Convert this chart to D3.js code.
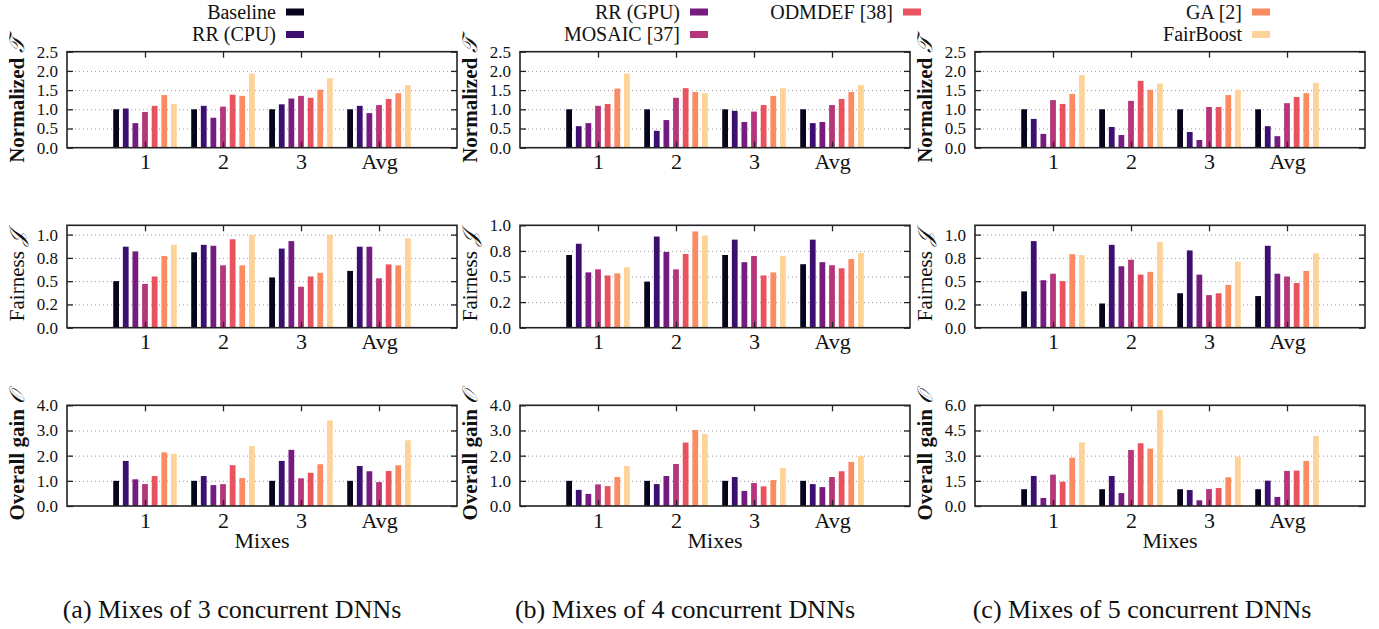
<!DOCTYPE html>
<html lang="en">
<head>
  <meta charset="UTF-8">
  <title>Concurrent DNN mixes</title>
  <script src="https://cdn.jsdelivr.net/npm/d3@7/dist/d3.min.js"></script>
  <style>
    html, body { margin: 0; padding: 0; background: #fff; }
    svg { display: block; font-family: "Liberation Serif", "DejaVu Serif", serif; }
  </style>
</head>
<body>
  <svg id="chart" width="1379" height="629"></svg>
  <script>
    // ---- data ----
    const groups = ['1', '2', '3', 'Avg'];
    const series = ['Baseline', 'RR (CPU)', 'RR (GPU)', 'MOSAIC [37]', 'ODMDEF [38]', 'GA [2]', 'FairBoost'];
    const captions = ['(a) Mixes of 3 concurrent DNNs', '(b) Mixes of 4 concurrent DNNs', '(c) Mixes of 5 concurrent DNNs'];

    // normalized throughput, one row per mix
    const thr3 = [[1.00, 1.02, 0.64, 0.93, 1.09, 1.37, 1.14],
                  [1.00, 1.09, 0.78, 1.07, 1.38, 1.35, 1.93],
                  [1.00, 1.13, 1.28, 1.35, 1.30, 1.51, 1.81],
                  [1.00, 1.09, 0.90, 1.11, 1.27, 1.42, 1.63]];
    const thr4 = [[1.00, 0.56, 0.64, 1.09, 1.14, 1.54, 1.93],
                  [1.00, 0.44, 0.72, 1.30, 1.55, 1.45, 1.42],
                  [1.00, 0.96, 0.67, 0.94, 1.11, 1.35, 1.55],
                  [1.00, 0.64, 0.67, 1.11, 1.27, 1.45, 1.63]];
    const thr5 = [[1.00, 0.75, 0.36, 1.24, 1.14, 1.40, 1.89],
                  [1.00, 0.54, 0.33, 1.22, 1.74, 1.51, 1.67],
                  [1.00, 0.41, 0.20, 1.06, 1.06, 1.37, 1.51],
                  [1.00, 0.56, 0.30, 1.16, 1.32, 1.42, 1.69]];

    // fairness
    const fair3 = [[0.50, 0.87, 0.82, 0.47, 0.55, 0.77, 0.89],
                   [0.81, 0.89, 0.88, 0.67, 0.95, 0.67, 1.00],
                   [0.54, 0.85, 0.93, 0.44, 0.55, 0.59, 1.00],
                   [0.61, 0.87, 0.87, 0.53, 0.68, 0.67, 0.96]];
    const fair4 = [[0.71, 0.82, 0.54, 0.57, 0.51, 0.53, 0.59],
                   [0.45, 0.89, 0.74, 0.57, 0.72, 0.94, 0.90],
                   [0.71, 0.86, 0.64, 0.70, 0.51, 0.54, 0.70],
                   [0.62, 0.86, 0.64, 0.61, 0.58, 0.67, 0.73]];
    const fair5 = [[0.39, 0.93, 0.51, 0.58, 0.50, 0.79, 0.78],
                   [0.26, 0.89, 0.66, 0.73, 0.57, 0.60, 0.92],
                   [0.37, 0.83, 0.57, 0.35, 0.37, 0.46, 0.71],
                   [0.34, 0.88, 0.58, 0.55, 0.48, 0.61, 0.80]];

    // overall gain
    const gain3 = [[1.00, 1.79, 1.06, 0.87, 1.19, 2.13, 2.07],
                   [1.00, 1.19, 0.83, 0.87, 1.62, 1.11, 2.38],
                   [1.00, 1.79, 2.23, 1.10, 1.32, 1.66, 3.40],
                   [1.00, 1.59, 1.38, 0.95, 1.39, 1.62, 2.61]];
    const gain4 = [[1.00, 0.64, 0.48, 0.86, 0.79, 1.15, 1.59],
                   [1.00, 0.87, 1.19, 1.67, 2.52, 3.02, 2.86],
                   [1.00, 1.15, 0.60, 0.91, 0.78, 1.03, 1.51],
                   [1.00, 0.87, 0.75, 1.15, 1.38, 1.75, 1.99]];
    const gain5 = [[1.00, 1.79, 0.48, 1.87, 1.45, 2.88, 3.79],
                   [1.00, 1.79, 0.77, 3.34, 3.74, 3.42, 5.72],
                   [1.00, 0.95, 0.34, 1.01, 1.07, 1.71, 2.94],
                   [1.00, 1.51, 0.54, 2.09, 2.11, 2.68, 4.17]];

    // y tick values and labels
    const thrTicks = [0, 0.5, 1.0, 1.5, 2.0, 2.5];
    const thrTickLabels = ['0.0', '0.5', '1.0', '1.5', '2.0', '2.5'];
    const fairTicks = [0, 0.25, 0.5, 0.75, 1.0];
    const fairTickLabels = ['0.0', '0.2', '0.5', '0.8', '1.0'];
    const gainTicks = [0, 1, 2, 3, 4];
    const gainTickLabels = ['0.0', '1.0', '2.0', '3.0', '4.0'];
    const gain5Ticks = [0, 1.5, 3, 4.5, 6];
    const gain5TickLabels = ['0.0', '1.5', '3.0', '4.5', '6.0'];

    // ---- style / layout ----
    const colors = ['#07051c', '#3c0f71', '#761c80', '#b5367a', '#e8535f', '#fb8c62', '#fdd397'];
    const colLeft = [67, 520, 975];
    const colCaptionX = [232, 685, 1142];
    const panelW = 390;
    const rowTop = [51.7, 225.3, 405.3];
    const rowH = [96, 102.4, 100.7];

    const panels = [
      {row: 0, col: 0, data: thr3, max: 2.5, ticks: thrTicks, labels: thrTickLabels},
      {row: 0, col: 1, data: thr4, max: 2.5, ticks: thrTicks, labels: thrTickLabels},
      {row: 0, col: 2, data: thr5, max: 2.5, ticks: thrTicks, labels: thrTickLabels},
      {row: 1, col: 0, data: fair3, max: 1.1, ticks: fairTicks, labels: fairTickLabels},
      {row: 1, col: 1, data: fair4, max: 1.0, ticks: fairTicks, labels: fairTickLabels},
      {row: 1, col: 2, data: fair5, max: 1.1, ticks: fairTicks, labels: fairTickLabels},
      {row: 2, col: 0, data: gain3, max: 4, ticks: gainTicks, labels: gainTickLabels},
      {row: 2, col: 1, data: gain4, max: 4, ticks: gainTicks, labels: gainTickLabels},
      {row: 2, col: 2, data: gain5, max: 6, ticks: gain5Ticks, labels: gain5TickLabels},
    ];
    const rowTitles = [
      {text: 'Normalized ', sym: '\u{1D4AF}', weight: 'bold'},
      {text: 'Fairness ', sym: '\u{1D4A5}', weight: 'normal'},
      {text: 'Overall gain ', sym: '\u{1D4AA}', weight: 'bold'},
    ];

    const svg = d3.select('#chart');
    svg.append('rect').attr('width', 1379).attr('height', 629).attr('fill', '#fff');

    panels.forEach(p => {
      const left = colLeft[p.col], top = rowTop[p.row], h = rowH[p.row];
      const g = svg.append('g').attr('transform', `translate(${left},${top})`);

      const x = d3.scaleLinear().domain([-1, 4]).range([0, panelW]);
      const y = d3.scaleLinear().domain([0, p.max]).range([h, 0]);
      const x1 = d3.scaleBand().domain(series)
        .range([0, x(0.5) - x(-0.5)])
        .paddingInner(0.4).paddingOuter(0.75);

      // grid
      g.append('g')
        .call(d3.axisLeft(y).tickValues(p.ticks.filter(t => t > 0 && t < p.max)).tickSize(-panelW).tickFormat(''))
        .call(a => a.select('.domain').remove())
        .call(a => a.selectAll('line').attr('stroke', '#999').attr('stroke-width', 1).attr('stroke-dasharray', '1,3'));

      // bars
      g.selectAll('g.grp').data(p.data).enter().append('g')
        .attr('class', 'grp')
        .attr('transform', (d, i) => `translate(${x(i - 0.5)},0)`)
        .selectAll('rect').data(d => d).enter().append('rect')
        .attr('x', (d, j) => x1(series[j]))
        .attr('width', x1.bandwidth())
        .attr('y', d => y(d))
        .attr('height', d => h - y(d))
        .attr('fill', (d, j) => colors[j]);

      // axes (ticks pointing inwards)
      const yl = g.append('g')
        .call(d3.axisLeft(y).tickValues(p.ticks).tickSizeInner(-6).tickSizeOuter(0).tickPadding(9)
          .tickFormat((d, i) => p.labels[i]));
      g.append('g').attr('transform', `translate(${panelW},0)`)
        .call(d3.axisRight(y).tickValues(p.ticks).tickSizeInner(-6).tickSizeOuter(0).tickFormat(''));
      const xl = g.append('g').attr('transform', `translate(0,${h})`)
        .call(d3.axisBottom(x).tickValues([0, 1, 2, 3]).tickSizeInner(-6).tickSizeOuter(0).tickPadding(6)
          .tickFormat(i => groups[i]));
      g.append('g')
        .call(d3.axisTop(x).tickValues([0, 1, 2, 3]).tickSizeInner(-6).tickSizeOuter(0).tickFormat(''));
      g.selectAll('.domain').remove();
      g.selectAll('.tick line').filter(function () { return !this.getAttribute('stroke-dasharray'); })
        .attr('stroke', '#222').attr('stroke-width', 1.3);
      yl.selectAll('text')
        .attr('font-family', '"Liberation Serif", serif').attr('font-size', 17).attr('fill', '#111');
      xl.selectAll('text')
        .attr('font-family', '"Liberation Serif", serif').attr('font-size', 22).attr('fill', '#111');

      g.append('rect').attr('width', panelW).attr('height', h)
        .attr('fill', 'none').attr('stroke', '#222').attr('stroke-width', 1.6);

      // y title
      const t = rowTitles[p.row];
      const title = g.append('text')
        .attr('transform', `translate(-43,${h / 2}) rotate(-90)`)
        .attr('text-anchor', 'middle')
        .attr('font-size', 21)
        .attr('font-weight', t.weight)
        .attr('fill', '#111');
      title.append('tspan').text(t.text);
      title.append('tspan').attr('font-weight', 'normal').attr('font-style', 'italic').text(t.sym);

      if (p.row === 2) {
        g.append('text').attr('x', panelW / 2).attr('y', h + 42)
          .attr('text-anchor', 'middle').attr('font-size', 22).attr('fill', '#111')
          .text('Mixes');
      }
    });

    // captions
    svg.selectAll('text.caption').data(captions).enter().append('text')
      .attr('class', 'caption')
      .attr('x', (d, i) => colCaptionX[i]).attr('y', 618)
      .attr('text-anchor', 'middle').attr('font-size', 26).attr('fill', '#111')
      .text(d => d);

    // legend: right edge of the text for each entry, two rows
    const legendRight = [276, 276, 680, 680, 893, 1242, 1242];
    const legendRow = [0, 1, 0, 1, 0, 0, 1];
    const leg = svg.append('g').selectAll('g').data(series).enter().append('g')
      .attr('transform', (d, i) => `translate(${legendRight[i]},${12 + legendRow[i] * 22.5})`);
    leg.append('text').attr('text-anchor', 'end').attr('dy', '0.33em')
      .attr('font-size', 20).attr('fill', '#111').text(d => d);
    leg.append('rect').attr('x', 10).attr('y', -3.5).attr('width', 18).attr('height', 7)
      .attr('fill', (d, i) => colors[i]);
  </script>
</body>
</html>
